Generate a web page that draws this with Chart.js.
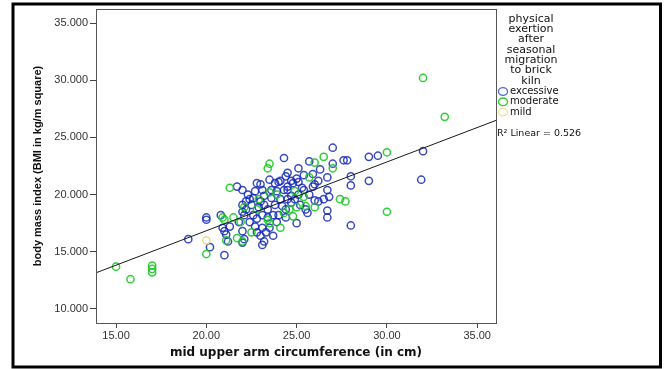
<!DOCTYPE html>
<html>
<head>
<meta charset="utf-8">
<script src="https://cdn.jsdelivr.net/npm/chart.js@4.4.1/dist/chart.umd.min.js"></script>
<style>
    html, body { margin: 0; padding: 0; background: #fff; }
</style>
</head>
<body>
<canvas id="bmiChart" width="664" height="369"></canvas>
<script>
// Categories and labels
const groups = ['excessive', 'moderate', 'mild'];
const legendTitle = ['physical', 'exertion', 'after', 'seasonal', 'migration', 'to brick', 'kiln'];
const xTicks = [15, 20, 25, 30, 35];
const yTicks = [10, 15, 20, 25, 30, 35];
const rSquared = 0.526;

// excessive exertion (blue)
const excessiveMuac = [19.0, 20.0, 20.0, 20.2, 20.8, 20.9, 21.0, 21.0, 21.1, 21.3, 21.2, 21.7, 22.0, 21.8, 22.0, 22.1, 22.0, 22.2, 22.0, 22.1,
    22.0, 22.4, 22.7, 22.8, 23.0, 22.8, 23.0, 23.0, 22.9, 23.1, 23.1, 23.1, 23.2, 23.3, 23.4, 23.5, 23.6, 23.7, 23.7, 23.8,
    23.8, 24.0, 24.1, 23.9, 24.0, 24.3, 24.4, 24.5, 24.5, 24.5, 24.3, 24.7, 24.8, 25.0, 25.1, 25.1, 25.3, 25.4, 25.4, 25.6,
    25.7, 25.9, 25.9, 26.0, 26.0, 26.2, 26.5, 26.7, 26.7, 26.7, 26.7, 26.8, 27.0, 27.0, 27.6, 27.8, 28.0, 28.0, 28.0, 29.0,
    29.5, 29.0, 31.9, 32.0, 22.3, 22.4, 22.5, 22.6, 22.7, 23.2, 23.2, 23.4, 24.1, 24.2, 24.4, 24.5, 24.7, 24.7, 24.9, 25.1,
    25.2, 24.4, 23.9, 23.6, 23.1, 23.5, 22.2, 22.6, 22.8, 25.0, 25.5, 25.7, 26.2, 26.3];
const excessiveBmi = [16.1, 18.0, 17.8, 15.4, 18.2, 17.1, 16.8, 14.7, 16.5, 17.2, 15.9, 20.7, 20.4, 17.6, 18.5, 18.2, 19.1, 19.4, 16.8, 16.1,
    15.8, 17.6, 17.2, 21.0, 20.9, 16.7, 16.4, 19.4, 18.9, 18.2, 17.1, 15.6, 15.9, 16.7, 18.0, 17.1, 19.7, 18.2, 16.4, 19.1,
    21.0, 21.1, 21.2, 20.3, 18.2, 23.2, 21.6, 21.9, 20.7, 20.4, 20.4, 21.2, 21.0, 21.4, 21.1, 22.3, 20.6, 20.4, 21.7, 18.4,
    22.9, 21.8, 20.7, 20.9, 19.5, 19.4, 19.6, 18.0, 21.5, 20.4, 18.6, 19.8, 24.1, 22.7, 23.0, 23.0, 21.6, 20.8, 17.3, 23.3,
    23.4, 21.2, 21.3, 23.8, 20.0, 19.6, 19.1, 19.7, 20.3, 19.9, 19.1, 18.7, 19.6, 19.0, 18.7, 19.6, 19.9, 19.3, 19.6, 20.0,
    19.1, 18.0, 17.6, 20.4, 20.4, 21.3, 18.7, 18.2, 17.9, 17.5, 18.7, 20.0, 21.2, 22.2];

// moderate exertion (green)
const moderateMuac = [15.0, 15.8, 17.0, 17.0, 17.0, 20.0, 20.9, 21.0, 21.1, 21.3, 21.5, 21.7, 22.0, 22.1, 22.5, 22.9, 23.4, 23.5, 23.5, 23.4,
    24.1, 24.6, 25.0, 24.8, 24.9, 25.4, 25.7, 26.0, 26.0, 26.5, 27.0, 27.4, 27.7, 30.0, 30.0, 32.0, 33.2, 23.9, 23.5, 24.3,
    25.5, 22.8, 21.9];
const moderateBmi = [13.7, 12.6, 13.8, 13.5, 13.2, 14.8, 18.0, 17.8, 16.0, 20.6, 18.0, 16.2, 15.9, 18.9, 16.7, 19.6, 17.8, 17.5, 22.7, 22.3,
    17.1, 18.7, 18.9, 18.1, 20.3, 19.8, 21.5, 18.9, 22.8, 23.3, 22.3, 19.6, 19.4, 23.7, 18.5, 30.2, 26.8, 20.0, 20.2, 18.4,
    19.0, 18.7, 17.6];

// mild exertion (yellow)
const mildMuac = [20.0];
const mildBmi = [16.0];

// Linear fit line, ends read at the plot edges
const fitMuac = [13.89, 36.04];
const fitBmi = [13.16, 26.49];

const groupColors = ['rgba(22, 42, 185, 0.85)', 'rgba(25, 200, 35, 0.9)', '#e6dc8c'];
const legendColors = ['#4a68dc', '#2ccc2c', '#eee39a'];

function toPoints(xs, ys) {
    return xs.map((x, i) => ({ x: x, y: ys[i] }));
}

const frameAndLegend = {
    id: 'frameAndLegend',
    afterDraw(chart) {
        const { ctx, chartArea } = chart;
        ctx.save();

        // plot frame (top and right sides)
        ctx.strokeStyle = '#555';
        ctx.lineWidth = 1;
        ctx.strokeRect(chartArea.left + 0.5, chartArea.top + 0.5,
            chartArea.right - chartArea.left, chartArea.bottom - chartArea.top);

        // legend title
        ctx.fillStyle = '#111';
        ctx.font = '11px "DejaVu Sans"';
        ctx.textAlign = 'center';
        ctx.textBaseline = 'middle';
        legendTitle.forEach((line, i) => ctx.fillText(line, 531, 19 + i * 10.3));

        // legend items
        ctx.textAlign = 'left';
        ctx.font = '10px "DejaVu Sans"';
        groups.forEach((g, i) => {
            const y = 91.5 + i * 10.3;
            ctx.beginPath();
            ctx.ellipse(503, y, 4.5, 3.8, 0, 0, Math.PI * 2);
            ctx.strokeStyle = legendColors[i];
            ctx.lineWidth = 1.3;
            ctx.stroke();
            ctx.fillText(g, 510, y);
        });

        ctx.font = '9.5px "DejaVu Sans"';
        ctx.fillText('R\u00b2 Linear = ' + rSquared.toFixed(3), 497, 134);

        // outer frame
        ctx.strokeStyle = '#000';
        ctx.lineWidth = 3;
        ctx.strokeRect(13, 4, 647.5, 363);
        ctx.restore();
    }
};

const tickFont = { family: 'Liberation Sans', size: 11 };

new Chart(document.getElementById('bmiChart'), {
    type: 'scatter',
    data: {
        datasets: [
            {
                type: 'line',
                label: 'Linear fit',
                data: toPoints(fitMuac, fitBmi),
                borderColor: '#1a1a1a',
                borderWidth: 1,
                pointRadius: 0,
                fill: false
            },
            {
                label: groups[2],
                data: toPoints(mildMuac, mildBmi),
                borderColor: groupColors[2],
                backgroundColor: 'transparent',
                pointRadius: 3.6,
                borderWidth: 1.5
            },
            {
                label: groups[1],
                data: toPoints(moderateMuac, moderateBmi),
                borderColor: groupColors[1],
                backgroundColor: 'transparent',
                pointRadius: 3.6,
                borderWidth: 1.5
            },
            {
                label: groups[0],
                data: toPoints(excessiveMuac, excessiveBmi),
                borderColor: groupColors[0],
                backgroundColor: 'transparent',
                pointRadius: 3.6,
                borderWidth: 1.5
            }
        ]
    },
    options: {
        responsive: false,
        animation: false,
        layout: { padding: { top: 9, right: 168, bottom: 0, left: 0 } },
        plugins: {
            legend: { display: false },
            tooltip: { enabled: false }
        },
        scales: {
            x: {
                type: 'linear',
                min: 13.89,
                max: 36.04,
                afterBuildTicks: axis => { axis.ticks = xTicks.map(v => ({ value: v })); },
                afterFit: scale => { scale.height = 46; },
                grid: { drawOnChartArea: false, drawTicks: true, tickLength: 5, color: '#444' },
                border: { display: true, color: '#555' },
                ticks: {
                    color: '#333',
                    font: tickFont,
                    padding: 1,
                    maxRotation: 0,
                    callback: v => Number(v).toFixed(2)
                },
                title: {
                    display: true,
                    text: 'mid upper arm circumference (in cm)',
                    color: '#111',
                    font: { family: 'DejaVu Sans', size: 12, weight: 'bold' },
                    padding: { top: 0, bottom: 9 }
                }
            },
            y: {
                type: 'linear',
                min: 8.77,
                max: 36.23,
                afterBuildTicks: axis => { axis.ticks = yTicks.map(v => ({ value: v })); },
                afterFit: scale => { scale.width = 96; },
                grid: { drawOnChartArea: false, drawTicks: true, tickLength: 6, color: '#444' },
                border: { display: true, color: '#555' },
                ticks: {
                    color: '#333',
                    font: tickFont,
                    padding: 2,
                    callback: v => Number(v).toFixed(3)
                },
                title: {
                    display: true,
                    text: 'body mass index (BMI in kg/m square)',
                    color: '#111',
                    font: { family: 'Liberation Sans', size: 11, weight: 'bold' },
                    padding: { top: 31, bottom: 0 }
                }
            }
        }
    },
    plugins: [frameAndLegend]
});
</script>
</body>
</html>
